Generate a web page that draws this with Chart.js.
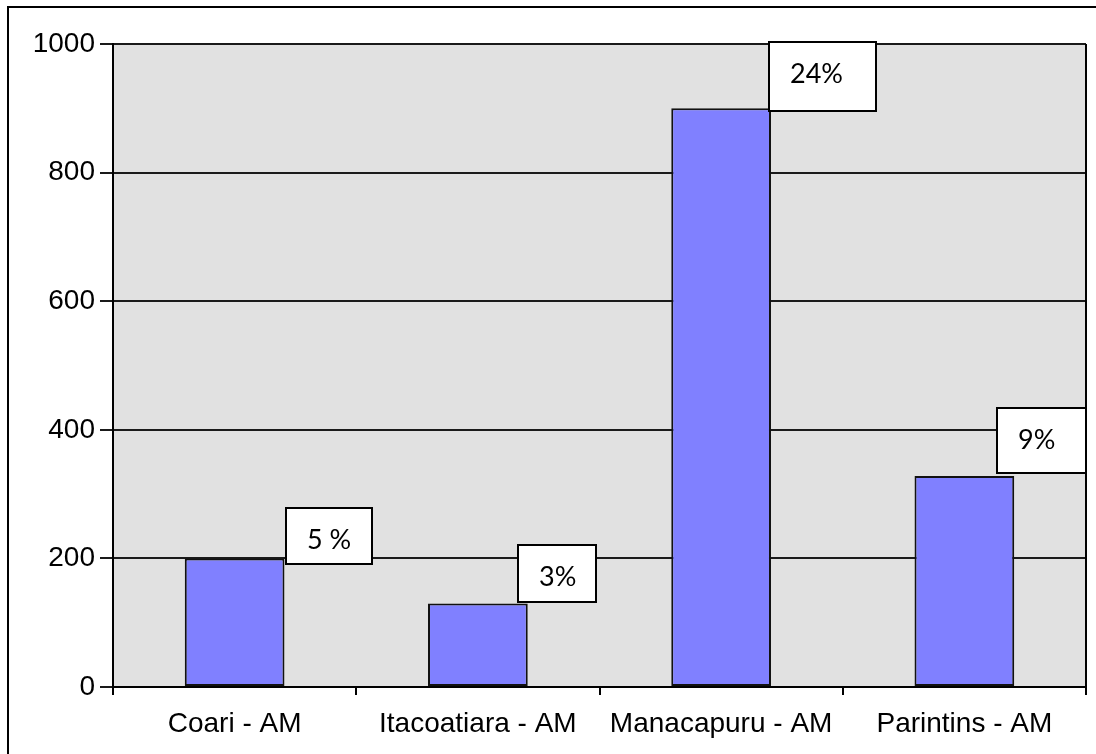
<!DOCTYPE html>
<html>
<head>
<meta charset="utf-8">
<script src="https://cdn.jsdelivr.net/npm/chart.js@4"></script>
<style>
  html, body { margin: 0; padding: 0; background: #ffffff; }
  #wrap { width: 1096px; height: 754px; position: relative; }
</style>
</head>
<body>
<div id="wrap"><canvas id="chart" width="1096" height="754"></canvas></div>
<script>
// Municipalities (Amazonas) and their totals
const categories = ['Coari - AM', 'Itacoatiara - AM', 'Manacapuru - AM', 'Parintins - AM'];
const values = [200, 130, 900, 328];
const shares = ['5 %', '3%', '24%', '9%'];
const yTicks = [0, 200, 400, 600, 800, 1000];

// Callout boxes, placed from each bar's top-right corner: [dx, dy, width, height]
const calloutLayout = [
  [2, -50, 86, 56],
  [-10, -58, 78, 57],
  [-2, -66, 107, 69],
  [-17, -68, 89, 65]
];

const tickFont = { family: '"Liberation Sans", Arial, sans-serif', size: 28 };

// Page frame, grey plot area and right plot border
const framePlugin = {
  id: 'frame',
  beforeDraw(chart) {
    const { ctx, chartArea: a } = chart;
    ctx.save();
    ctx.fillStyle = '#e1e1e1';
    ctx.fillRect(a.left, a.top, a.right - a.left, a.bottom - a.top);
    ctx.strokeStyle = '#000';
    ctx.lineWidth = 2;
    ctx.beginPath();
    ctx.moveTo(8, 760);
    ctx.lineTo(8, 7);
    ctx.lineTo(1100, 7);
    ctx.stroke();
    ctx.restore();
  },
  afterDatasetsDraw(chart) {
    const { ctx, chartArea: a } = chart;
    ctx.save();
    ctx.strokeStyle = '#000';
    ctx.lineWidth = 2;
    ctx.beginPath();
    ctx.moveTo(a.right, a.top);
    ctx.lineTo(a.right, a.bottom + 8);
    ctx.stroke();
    ctx.restore();
  }
};

// White boxed share labels next to each bar
const calloutPlugin = {
  id: 'callouts',
  afterDraw(chart) {
    const { ctx } = chart;
    const bars = chart.getDatasetMeta(0).data;
    ctx.save();
    bars.forEach((bar, i) => {
      const [dx, dy, w, h] = calloutLayout[i];
      const right = bar.x + bar.width / 2;
      const x = Math.round(right + dx);
      const y = Math.round(bar.y + dy);
      ctx.fillStyle = '#ffffff';
      ctx.fillRect(x, y, w, h);
      ctx.strokeStyle = '#000';
      ctx.lineWidth = 2;
      ctx.strokeRect(x, y, w, h);
      ctx.fillStyle = '#000';
      ctx.font = '27px Lato, "Open Sans", sans-serif';
      ctx.textAlign = 'left';
      ctx.textBaseline = 'middle';
      ctx.fillText(shares[i], x + 21, y + 32);
    });
    ctx.restore();
  }
};

new Chart(document.getElementById('chart'), {
  type: 'bar',
  data: {
    labels: categories,
    datasets: [{
      data: values,
      backgroundColor: '#8080ff',
      borderColor: '#111',
      borderWidth: 2,
      borderSkipped: false,
      categoryPercentage: 1,
      barPercentage: 0.41
    }]
  },
  options: {
    responsive: false,
    devicePixelRatio: 1,
    animation: false,
    layout: { padding: { left: 0, top: 44, right: 10, bottom: 0 } },
    plugins: { legend: { display: false }, tooltip: { enabled: false } },
    scales: {
      x: {
        grid: {
          offset: true,
          drawOnChartArea: false,
          drawTicks: true,
          tickLength: 8,
          color: '#000',
          lineWidth: 2
        },
        border: { display: true, color: '#000', width: 2 },
        ticks: { font: tickFont, color: '#000', padding: 12, maxRotation: 0, autoSkip: false },
        afterFit(scale) { scale.height = 67; }
      },
      y: {
        min: 0,
        max: 1000,
        afterBuildTicks(scale) { scale.ticks = yTicks.map(v => ({ value: v })); },
        grid: {
          color: '#1a1a1a',
          lineWidth: 2,
          drawTicks: true,
          tickLength: 13
        },
        border: { display: true, color: '#000', width: 2 },
        ticks: {
          font: tickFont,
          color: '#000',
          padding: 5,
          callback: (v) => String(v)
        },
        afterFit(scale) { scale.width = 113; }
      }
    }
  },
  plugins: [framePlugin, calloutPlugin]
});
</script>
</body>
</html>
